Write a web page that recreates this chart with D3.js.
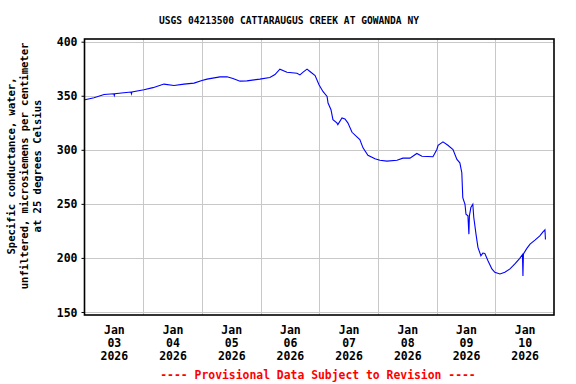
<!DOCTYPE html>
<html>
<head>
<meta charset="utf-8">
<script src="https://cdn.jsdelivr.net/npm/d3@7"></script>
<style>
  html, body { margin: 0; padding: 0; background: #fff; }
  svg { display: block; }
  text { font-family: "DejaVu Sans Mono", monospace; font-weight: bold; }
</style>
</head>
<body>
<svg id="chart" width="576" height="384"></svg>
<script>
// ---- Data ----
const title = "USGS 04213500 CATTARAUGUS CREEK AT GOWANDA NY";
const yLabelLines = ["Specific conductance, water,", "unfiltered, microsiemens per centimeter", "at 25 degrees Celsius"];
const footer = "---- Provisional Data Subject to Revision ----";
const startDate = new Date(2026, 0, 3, 0, 0);
const endDate = new Date(2026, 0, 11, 0, 0);
const yTickValues = [150, 200, 250, 300, 350, 400];
const xTickDays = [3, 4, 5, 6, 7, 8, 9, 10];
// hours since 2026-01-03 00:00
const hoursSinceStart = [
  0.2, 3.9, 8.0, 12.0, 12.2, 12.4, 16.1, 19.0, 19.2, 19.4, 24.3, 28.0, 32.5, 36.6, 40.7, 44.8, 48.0,
  50.1, 55.4, 58.3, 60.7, 63.6, 66.4, 71.7, 75.8, 77.9, 79.9,
  82.8, 86.9, 88.1, 89.4, 91.0, 92.2, 94.3, 95.9, 97.5, 99.2,
  99.6, 100.8, 101.6, 103.2, 103.6, 105.3, 106.5, 107.7, 109.4, 111.4,
  112.6, 113.9, 115.9, 118.8, 120.8, 123.7, 127.8, 130.2, 133.1, 135.9,
  138.0, 142.5, 144.1, 144.6, 146.6, 148.6, 150.7, 152.3, 153.5, 154.3,
  154.7, 155.6, 156.0, 156.8, 157.2, 157.4, 158.0, 158.8, 159.2, 160.1,
  160.9, 162.1, 162.9, 163.7, 165.0, 166.6, 167.8, 169.9, 171.9, 174.0,
  176.0, 178.0, 179.1, 179.3, 179.5, 180.9, 182.2, 184.2, 186.2, 187.5,
  188.3, 188.5
];
const conductance = [
  346.3, 348.2, 351.2, 351.8, 350.2, 351.9, 352.8, 353.5, 351.8, 353.6, 355.5, 357.5, 360.8, 359.5, 360.8, 361.7, 364.1,
  365.4, 367.5, 367.5, 365.9, 363.5, 363.8, 365.4, 366.9, 369.6, 374.6,
  371.8, 370.9, 369.3, 371.8, 374.6, 372.4, 368.7, 360.1, 354.0, 349.4,
  343.3, 337.1, 327.9, 324.9, 323.3, 329.5, 328.5, 324.9, 316.2, 312.0,
  309.5, 301.8, 295.0, 291.7, 290.4, 289.5, 290.4, 292.3, 292.3, 296.6,
  294.1, 293.6, 300.3, 304.2, 307.4, 304.2, 300.3, 291.1, 288.0, 278.8,
  255.8, 249.6, 240.4, 238.9, 222.0, 238.9, 246.6, 249.6, 237.4, 222.0,
  209.8, 202.0, 204.5, 204.2, 197.4, 189.8, 186.7, 185.2, 186.7, 189.8,
  194.4, 199.6, 203.1, 183.3, 203.6, 208.8, 212.8, 216.5, 220.4, 224.1,
  226.0, 217.0
];

// ---- Layout ----
const svg = d3.select("#chart");
const plot = { left: 84.5, right: 554, top: 39, bottom: 315 };

const x = d3.scaleTime().domain([startDate, endDate]).range([plot.left, plot.right]);
const y = d3.scaleLinear().domain([147.2, 402.5]).range([plot.bottom, plot.top]);

const data = hoursSinceStart.map((h, i) => ({
  t: new Date(startDate.getTime() + h * 3600e3),
  v: conductance[i]
}));

// Gridlines
const gridDays = d3.timeDay.range(d3.timeDay.offset(startDate, 1), endDate);
svg.append("g").selectAll("line.vg").data(gridDays).join("line")
  .attr("x1", d => Math.round(x(d)) + 0.5).attr("x2", d => Math.round(x(d)) + 0.5)
  .attr("y1", plot.top).attr("y2", plot.bottom)
  .attr("stroke", "#c8c8c8").attr("stroke-width", 1);
svg.append("g").selectAll("line.hg").data(yTickValues).join("line")
  .attr("x1", plot.left).attr("x2", plot.right)
  .attr("y1", d => Math.round(y(d)) + 0.5).attr("y2", d => Math.round(y(d)) + 0.5)
  .attr("stroke", "#c8c8c8").attr("stroke-width", 1);

// Data line
const line = d3.line().x(d => x(d.t)).y(d => y(d.v));
svg.append("path").datum(data)
  .attr("d", line)
  .attr("fill", "none")
  .attr("stroke", "#0000ff")
  .attr("stroke-width", 1.1)
  .attr("stroke-linejoin", "miter");

// Frame
svg.append("rect")
  .attr("x", plot.left).attr("y", plot.top)
  .attr("width", plot.right - plot.left).attr("height", plot.bottom - plot.top)
  .attr("fill", "none").attr("stroke", "#000").attr("stroke-width", 1.6);

// Y axis
const yAxis = d3.axisLeft(y).tickValues(yTickValues).tickSize(3).tickPadding(4).tickFormat(d3.format("d"));
const gy = svg.append("g").attr("transform", `translate(${plot.left},0)`).call(yAxis);
gy.select(".domain").remove();
gy.selectAll(".tick line").attr("stroke", "#000");
gy.selectAll(".tick text").attr("font-size", 11.5).attr("font-family", "DejaVu Sans Mono")
  .attr("font-weight", "bold").attr("fill", "#000").attr("dy", "0.35em");

// X axis (labels at noon of each day)
const xTicks = xTickDays.map(d => new Date(2026, 0, d, 12, 0));
const xAxis = d3.axisBottom(x).tickValues(xTicks).tickSize(0).tickFormat("");
const gx = svg.append("g").attr("transform", `translate(0,${plot.bottom})`).call(xAxis);
gx.select(".domain").remove();
gx.selectAll(".tick").each(function(d) {
  const t = d3.select(this).append("text")
    .attr("text-anchor", "middle").attr("font-size", 11.5).attr("fill", "#000");
  const lines = [d3.timeFormat("%b")(d), d3.timeFormat("%d")(d), d3.timeFormat("%Y")(d)];
  lines.forEach((s, i) => t.append("tspan").attr("x", 0).attr("y", 19 + i * 13).text(s));
});

// Title
svg.append("text").attr("x", 289).attr("y", 23.5).attr("text-anchor", "middle")
  .attr("font-size", 9.6).attr("fill", "#000").text(title);

// Y label
const yl = svg.append("text").attr("transform", "translate(0,166) rotate(-90)")
  .attr("text-anchor", "middle").attr("font-size", 10.5).attr("fill", "#000");
yLabelLines.forEach((s, i) => yl.append("tspan").attr("x", 0).attr("y", 14.5 + i * 13).text(s));

// Footer
svg.append("text").attr("x", 318).attr("y", 379).attr("text-anchor", "middle")
  .attr("font-size", 11.4).attr("fill", "#ff0000").text(footer);
</script>
</body>
</html>
